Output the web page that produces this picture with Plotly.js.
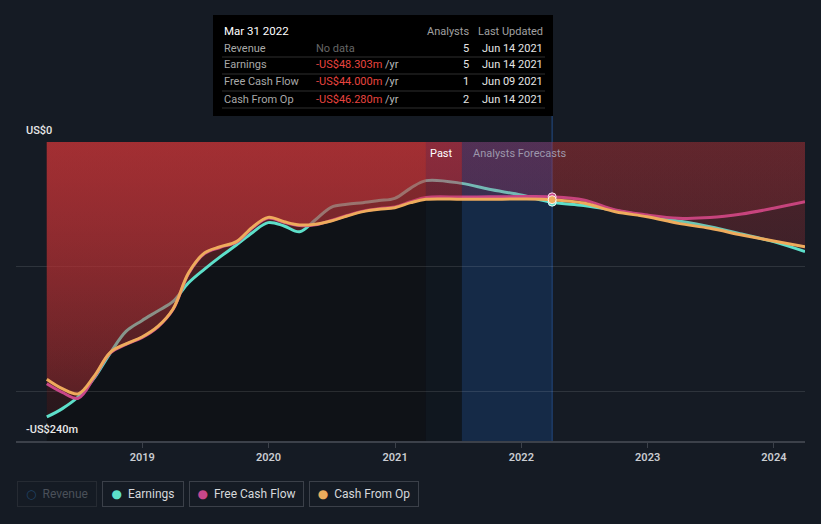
<!DOCTYPE html>
<html>
<head>
<meta charset="utf-8">
<script src="https://cdn.plot.ly/plotly-3.0.1.min.js"></script>
<style>
html,body{margin:0;padding:0;background:#151b24;}
#chart{width:821px;height:524px;}
</style>
</head>
<body>
<div id="chart"></div>
<script>
// ---------------- DATA ----------------
const dates = [
  '2018-03-31','2018-05-15','2018-06-30','2018-08-15','2018-09-30','2018-11-15','2018-12-31',
  '2019-02-15','2019-03-31','2019-05-15','2019-06-30','2019-08-15','2019-09-30','2019-11-15','2019-12-31',
  '2020-02-15','2020-03-31','2020-05-15','2020-06-30','2020-08-15','2020-09-30','2020-11-15','2020-12-31',
  '2021-02-15','2021-03-31','2021-07-13','2021-09-30','2021-12-31','2022-03-31',
  '2022-06-30','2022-09-30','2022-12-31','2023-03-31','2023-06-30','2023-09-30','2023-12-31','2024-03-31'
];
const earnings = [
  -220.7,-214,-204.5,-189.6,-169.6,-152,-143.4,
  -135.6,-128,-113,-102,-92,-82.7,-72.8,-64.7,
  -67.4,-72,-62.6,-52.4,-50,-48.7,-47,-45.2,
  -37,-31,-33.2,-38,-42.5,-48.303,
  -51,-55,-59.5,-63.4,-68,-73.8,-80,-88
];
const freeCashFlow = [
  -194,-201,-205.7,-189,-169.5,-162.5,-157,
  -148.5,-134.5,-105.5,-89.5,-84.5,-80.5,-69,-61,
  -64.5,-67,-66.5,-63,-59,-55.5,-53.5,-52.2,
  -48,-44.5,-44.2,-44,-43.8,-44.0,
  -46.5,-54.6,-58.6,-61.2,-60.7,-57.8,-53.2,-48
];
const cashFromOp = [
  -190.4,-198,-202.2,-188,-169,-162,-156.5,
  -148,-134,-105,-89,-84,-80,-68.5,-60.5,
  -64,-66.6,-66,-63.4,-59.4,-55.9,-54,-52.7,
  -48.7,-46,-46,-46,-45.8,-46.28,
  -49,-56,-60,-65.3,-69.3,-74.6,-79.5,-84
];
const seriesNames = ['Earnings','Free Cash Flow','Cash From Op'];
const seriesColors = ['#5ddfca','#c9478a','#eeab5c'];
const yearTicks = ['2019-01-01','2020-01-01','2021-01-01','2022-01-01','2023-01-01','2024-01-01'];
const yearLabels = ['2019','2020','2021','2022','2023','2024'];
const segmentBounds = ['2018-03-31','2021-03-31','2021-07-13','2022-03-31','2024-03-31'];
const hoverDate = '2022-03-31';

// tooltip table
const tipTitle = 'Mar 31 2022';
const tipLabels = ['Revenue','Earnings','Free Cash Flow','Cash From Op'];
const tipValues = [null, -48.303, -44.000, -46.280];
const tipAnalysts = [5, 5, 1, 2];
const tipUpdated = ['Jun 14 2021','Jun 14 2021','Jun 09 2021','Jun 14 2021'];
const legendNames = ['Revenue','Earnings','Free Cash Flow','Cash From Op'];

// ---------------- STYLE ----------------
const FONT = 'Roboto, "Open Sans", "DejaVu Sans", sans-serif';
const W = 821, H = 524, ML = 16, MR = 16, MT = 142, MB = 83;
const PW = W - ML - MR, PH = H - MT - MB;
const px = v => (v - ML) / PW;            // pixel -> paper x
const py = v => (H - MB - v) / PH;        // pixel -> paper y
const SMOOTH = 1.0;

const segStyles = [
  {rgb:'190,52,56',  top:0.46, bot:0.12},
  {rgb:'190,52,72',  top:0.34, bot:0.08},
  {rgb:'190,60,110', top:0.14, bot:0.04},
  {rgb:'185,50,55',  top:0.19, bot:0.05}
];

const allSeries = [earnings, freeCashFlow, cashFromOp];
const traces = [];
allSeries.forEach((vals, si) => {
  for (let s = 0; s < segmentBounds.length - 1; s++) {
    const a = segmentBounds[s], b = segmentBounds[s+1];
    const xs = [], ys = [];
    dates.forEach((d, i) => { if (d >= a && d <= b) { xs.push(d); ys.push(vals[i]); } });
    const st = segStyles[s];
    traces.push({
      x: xs, y: ys, type: 'scatter', mode: 'none', fill: 'tozeroy',
      line: {shape: 'spline', smoothing: SMOOTH, width: 0},
      fillcolor: 'rgba(' + st.rgb + ',' + st.top + ')',
      fillgradient: {type: 'vertical', start: -240, stop: 0,
        colorscale: [[0, 'rgba(' + st.rgb + ',' + st.bot + ')'], [1, 'rgba(' + st.rgb + ',' + st.top + ')']]},
      hoverinfo: 'skip', showlegend: false
    });
  }
  traces.push({
    x: dates, y: vals, type: 'scatter', mode: 'lines', name: seriesNames[si],
    line: {color: seriesColors[si], width: 3, shape: 'spline', smoothing: SMOOTH},
    hoverinfo: 'skip', showlegend: false
  });
});
// hover markers
const hi = dates.indexOf(hoverDate);
allSeries.forEach((vals, si) => {
  traces.push({
    x: [dates[hi]], y: [vals[hi]], type: 'scatter', mode: 'markers',
    marker: {size: 8, color: seriesColors[si], line: {color: 'rgba(255,255,255,0.85)', width: 1}},
    hoverinfo: 'skip', showlegend: false
  });
});

// ---------------- SHAPES ----------------
const shapes = [
  {type:'rect', xref:'x', yref:'paper', x0:segmentBounds[0], x1:segmentBounds[1], y0:0, y1:1, fillcolor:'#0f1217', line:{width:0}, layer:'below'},
  {type:'rect', xref:'x', yref:'paper', x0:segmentBounds[1], x1:segmentBounds[2], y0:0, y1:1, fillcolor:'#10171f', line:{width:0}, layer:'below'},
  {type:'rect', xref:'x', yref:'paper', x0:segmentBounds[2], x1:segmentBounds[3], y0:0, y1:1, fillcolor:'#152a47', line:{width:0}, layer:'below'},
  {type:'line', xref:'x', yref:'paper', x0:hoverDate, x1:hoverDate, y0:0, y1:py(15), line:{color:'#1d3d68', width:1.5}, layer:'below'},
  // tooltip box
  {type:'rect', xref:'paper', yref:'paper', x0:px(213), x1:px(553), y0:py(116), y1:py(15), fillcolor:'#000000', line:{width:0}, layer:'above'}
];
[57, 74, 91, 108].forEach(yy => shapes.push({
  type:'line', xref:'paper', yref:'paper', x0:px(222), x1:px(545), y0:py(yy), y1:py(yy),
  line:{color:'#2e2e2e', width:1}, layer:'above'}));

// ---------------- ANNOTATIONS ----------------
const ann = [];
const txt = (text, x, y, xanchor, color, size, extra) => Object.assign({
  text, xref:'paper', yref:'paper', x:px(x), y:py(y), xanchor, yanchor:'middle',
  showarrow:false, font:{family:FONT, size:size || 11, color}
}, extra || {});

ann.push(txt('US$0', 24, 130, 'left', '#e8e8e8', 11, {font:{family:FONT,size:11,color:'#e8e8e8',weight:500}}));
ann.push(txt('-US$240m', 24, 429, 'left', '#e8e8e8', 11, {font:{family:FONT,size:11,color:'#e8e8e8',weight:500}}));
ann.push(txt('Past', 455, 153, 'right', '#ffffff', 11));
ann.push(txt('Analysts Forecasts', 471, 153, 'left', '#9d97ab', 11));

// tooltip
ann.push(txt(tipTitle, 222, 31, 'left', '#ffffff', 11.5));
ann.push(txt('Analysts', 471, 31, 'right', '#a0a0a0', 11));
ann.push(txt('Last Updated', 545, 31, 'right', '#a0a0a0', 11));
const rowY = [48, 65, 82, 99];
tipLabels.forEach((lab, i) => {
  ann.push(txt(lab, 222, rowY[i], 'left', '#a8a8a8', 11));
  const v = tipValues[i];
  const vt = v === null ? 'No data'
    : '<span style="color:#e8443f">' + (v < 0 ? '-' : '') + 'US$' + Math.abs(v).toFixed(3) + 'm</span> /yr';
  ann.push(txt(vt, 314, rowY[i], 'left', v === null ? '#666666' : '#b8b8b8', 11));
  ann.push(txt(String(tipAnalysts[i]), 471, rowY[i], 'right', '#e6e6e6', 11));
  ann.push(txt(tipUpdated[i], 545, rowY[i], 'right', '#e6e6e6', 11));
});

// legend boxes
const legBoxes = [[17,97],[102,184],[189,304],[309,419]];
const legDot = ['<span style="color:#1f4468">○</span>'].concat(seriesColors.map(c => '<span style="color:' + c + '">●</span>'));
legendNames.forEach((n, i) => {
  const [x0, x1] = legBoxes[i];
  const dim = i === 0;
  ann.push({
    text: legDot[i] + '\u00a0\u00a0' + n,
    xref:'paper', yref:'paper', x:px((x0 + x1) / 2), y:py(494), xanchor:'center', yanchor:'middle',
    showarrow:false, width:x1 - x0 - 2, height:24, align:'center', valign:'middle',
    bordercolor: dim ? '#262b33' : '#3b4049', borderwidth:1, borderpad:0,
    font:{family:FONT, size:12, color: dim ? '#4a5059' : '#d6d8db'}
  });
});

const layout = {
  width: W, height: H,
  margin: {l: ML, r: MR, t: MT, b: MB},
  paper_bgcolor: '#151b24', plot_bgcolor: '#151b24',
  font: {family: FONT, color: '#d0d0d0'},
  showlegend: false, hovermode: false,
  xaxis: {
    type: 'date', range: ['2018-01-01', '2024-03-31'],
    tickvals: yearTicks, ticktext: yearLabels,
    showgrid: false, zeroline: false,
    showline: true, linecolor: '#3c414a', linewidth: 1.5,
    ticks: 'outside', ticklen: 5, tickcolor: '#3c414a', tickwidth: 1,
    tickfont: {family: FONT, size: 11, color: '#c9ccd1', weight: 600}
  },
  yaxis: {
    range: [-240, 0], tickvals: [0, -100, -200], showticklabels: false,
    showgrid: true, gridcolor: 'rgba(255,255,255,0.11)', gridwidth: 1,
    zeroline: false, showline: false, ticks: ''
  },
  shapes: shapes,
  annotations: ann
};

Plotly.newPlot('chart', traces, layout, {displayModeBar: false, staticPlot: true});
</script>
</body>
</html>
